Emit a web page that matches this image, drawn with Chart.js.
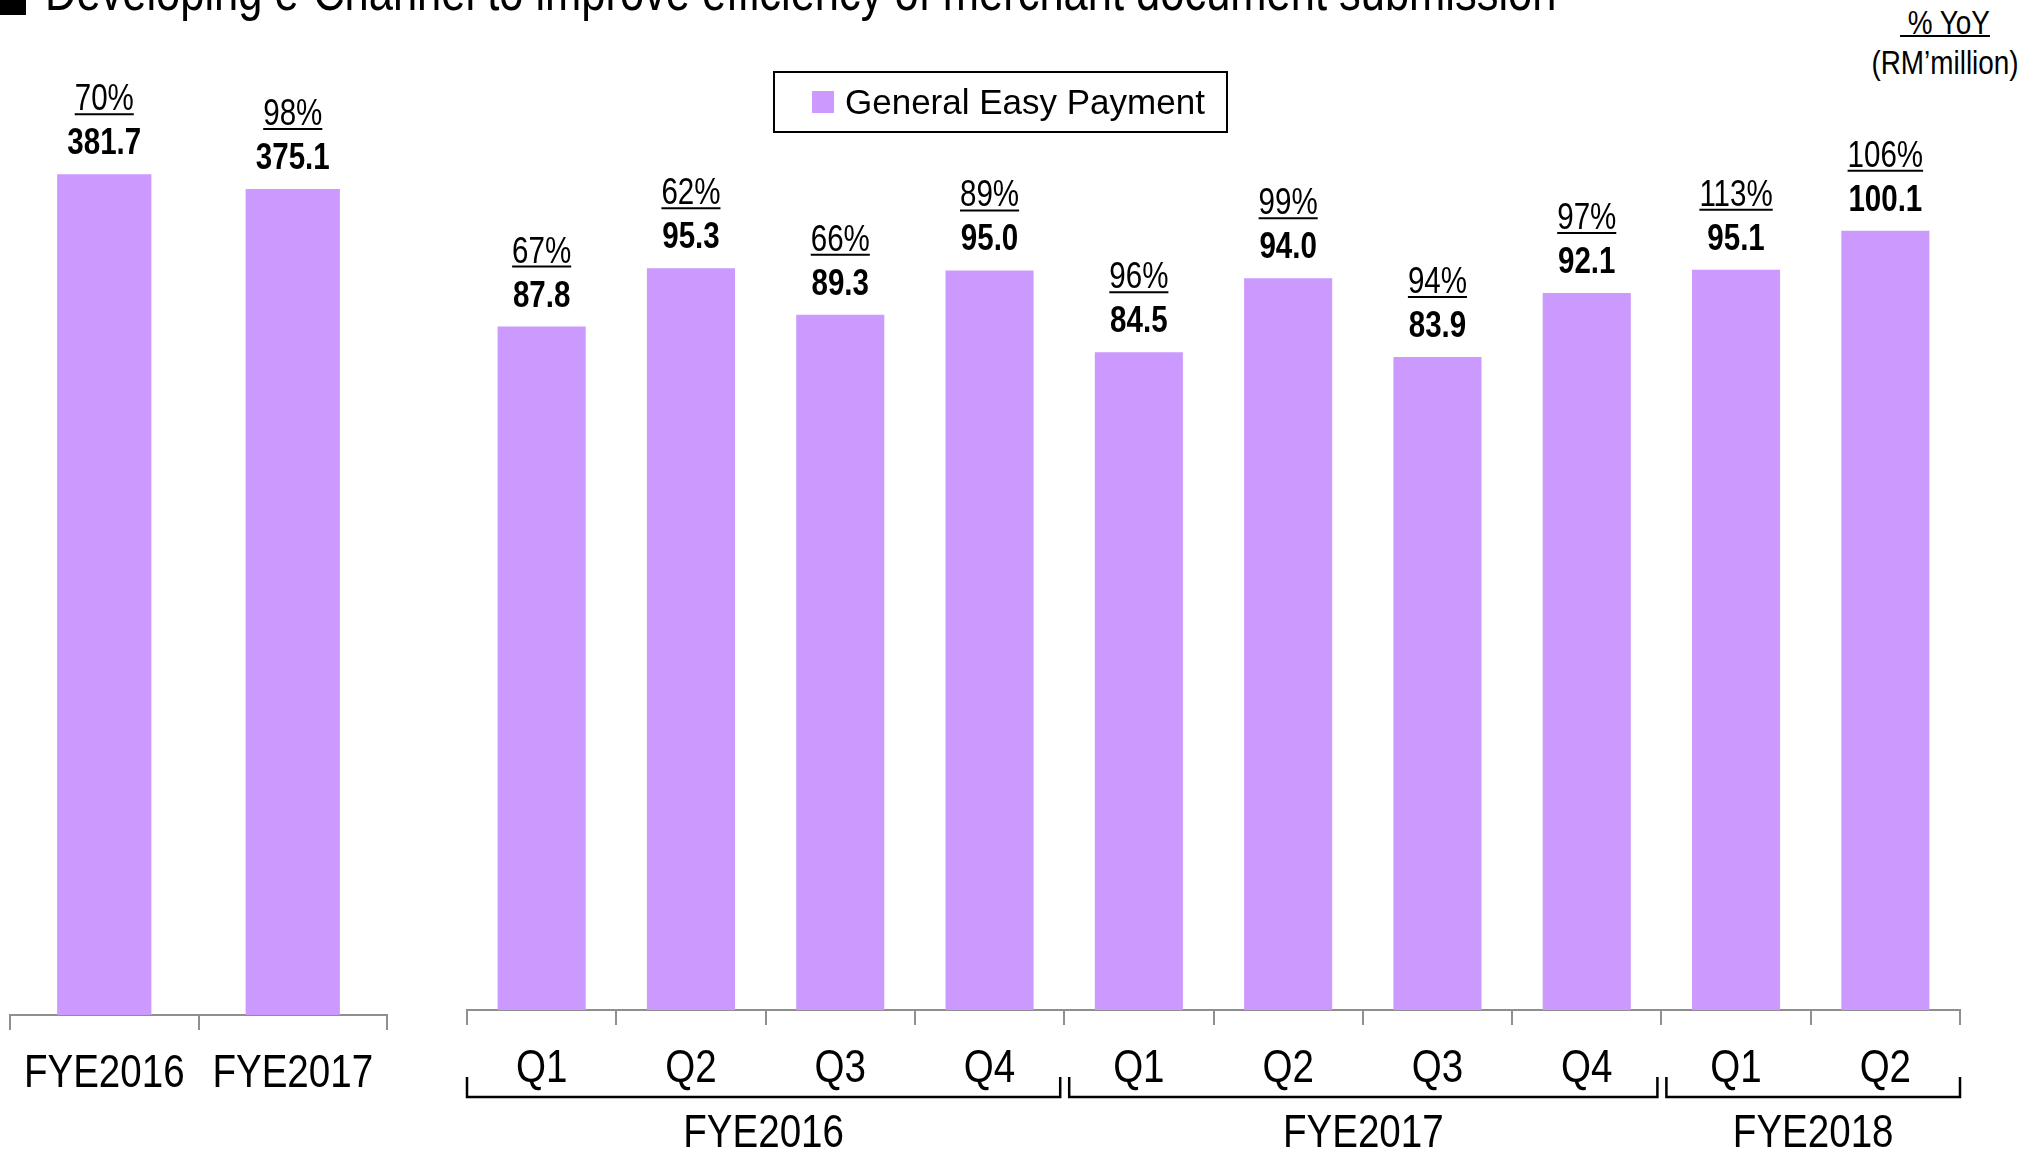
<!DOCTYPE html>
<html>
<head>
<meta charset="utf-8">
<script src="https://cdn.jsdelivr.net/npm/chart.js@4.4.0/dist/chart.umd.min.js"></script>
<style>
  html, body { margin: 0; padding: 0; background: #fff; }
  #page { position: relative; width: 2022px; height: 1149px; overflow: hidden;
          font-family: "Liberation Sans", Arial, sans-serif; color: #000; }
  canvas { position: absolute; top: 0; }
  .abs { position: absolute; white-space: nowrap; }
  .narrow { transform: scaleX(0.82); }
</style>
</head>
<body>
<div id="page">
  <div class="abs" style="left:0; top:-12px; width:26px; height:27px; background:#000;"></div>
  <div class="abs narrow" style="left:45px; top:-35px; font-size:53px; line-height:53px; transform-origin:0 0;">Developing e-Channel to improve efficiency of merchant document submission</div>

  <div class="abs narrow" style="left:1845px; top:2px; width:200px; text-align:center; font-size:34px; line-height:40px; transform-origin:50% 0;">
    <span style="text-decoration:underline; text-decoration-thickness:2px;">&nbsp;% YoY</span><br>(RM’million)
  </div>

  <canvas id="annualChart" width="400" height="1149" style="left:0;"></canvas>
  <canvas id="quarterChart" width="1582" height="1149" style="left:440px;"></canvas>

  <div class="abs" style="left:773px; top:71px; width:451px; height:58px; border:2px solid #000;">
    <div class="abs" style="left:37px; top:18px; width:22px; height:22px; background:#CC99FF;"></div>
    <div class="abs" style="left:70px; top:5px; font-size:35px; line-height:48px;">General Easy Payment</div>
  </div>
</div>

<script>
// Annual totals
const annualLabels = ['FYE2016', 'FYE2017'];
const annualValues = [381.7, 375.1];
const annualYoy = [70, 98];

// Quarterly figures
const quarterLabels = ['Q1', 'Q2', 'Q3', 'Q4', 'Q1', 'Q2', 'Q3', 'Q4', 'Q1', 'Q2'];
const quarterValues = [87.8, 95.3, 89.3, 95.0, 84.5, 94.0, 83.9, 92.1, 95.1, 100.1];
const quarterYoy = [67, 62, 66, 89, 96, 99, 94, 97, 113, 106];

// Fiscal year groups under the quarters
const groupLabels = ['FYE2016', 'FYE2017', 'FYE2018'];
const groupSizes = [4, 4, 2];

const FONT = '"Liberation Sans", Arial, sans-serif';
const SQUEEZE = 0.82;   // no Arial Narrow here, so squeeze Liberation Sans
const BAR_COLOR = '#CC99FF';
const AXIS_COLOR = '#8f8f8f';

function narrowText(ctx, text, x, y) {
    ctx.save();
    ctx.translate(x, y);
    ctx.scale(SQUEEZE, 1);
    ctx.fillText(text, 0, 0);
    ctx.restore();
    return ctx.measureText(text).width * SQUEEZE;
}

// Draws "xx%" (underlined) and the value above each bar
const barLabels = {
    id: 'barLabels',
    afterDatasetsDraw(chart, args, opts) {
        const ctx = chart.ctx;
        const meta = chart.getDatasetMeta(0);
        const values = chart.data.datasets[0].data;
        ctx.save();
        ctx.fillStyle = '#000';
        ctx.strokeStyle = '#000';
        ctx.textAlign = 'center';
        ctx.textBaseline = 'alphabetic';
        meta.data.forEach((bar, i) => {
            const x = bar.x;
            const top = bar.y;
            ctx.font = 'bold 36px ' + FONT;
            narrowText(ctx, values[i].toFixed(1), x, top - 20);
            ctx.font = '36px ' + FONT;
            const w = narrowText(ctx, opts.yoy[i] + '%', x, top - 64);
            ctx.lineWidth = 2;
            ctx.beginPath();
            ctx.moveTo(x - w / 2, top - 60);
            ctx.lineTo(x + w / 2, top - 60);
            ctx.stroke();
        });
        ctx.restore();
    }
};

// Category names under the axis (drawn narrow at the scale's tick positions)
const tickText = {
    id: 'tickText',
    afterDraw(chart, args, opts) {
        const ctx = chart.ctx;
        const xs = chart.scales.x;
        ctx.save();
        ctx.fillStyle = '#000';
        ctx.font = '47px ' + FONT;
        ctx.textAlign = 'center';
        ctx.textBaseline = 'alphabetic';
        xs.ticks.forEach((t, i) => {
            narrowText(ctx, xs.getLabelForValue(t.value), xs.getPixelForTick(i), opts.baseline);
        });
        ctx.restore();
    }
};

// Brackets and fiscal year names below the quarter labels
const groupBrackets = {
    id: 'groupBrackets',
    afterDraw(chart) {
        const ctx = chart.ctx;
        const xs = chart.scales.x;
        const step = xs.getPixelForValue(1) - xs.getPixelForValue(0);
        ctx.save();
        ctx.strokeStyle = '#000';
        ctx.fillStyle = '#000';
        ctx.lineWidth = 2.5;
        ctx.font = '47px ' + FONT;
        ctx.textAlign = 'center';
        ctx.textBaseline = 'alphabetic';
        let start = 0;
        groupSizes.forEach((n, g) => {
            const end = start + n - 1;
            const left = xs.getPixelForValue(start) - step / 2 + (start === 0 ? 0 : 5);
            const right = xs.getPixelForValue(end) + step / 2 - (end === quarterLabels.length - 1 ? 0 : 4);
            ctx.beginPath();
            ctx.moveTo(left, 1077);
            ctx.lineTo(left, 1097);
            ctx.lineTo(right, 1097);
            ctx.lineTo(right, 1077);
            ctx.stroke();
            narrowText(ctx, groupLabels[g], (left + right) / 2, 1147);
            start += n;
        });
        ctx.restore();
    }
};

function xAxis(height) {
    return {
        offset: true,
        grid: {
            offset: true,
            drawOnChartArea: false,
            drawTicks: true,
            tickLength: 15,
            color: AXIS_COLOR,
            lineWidth: 2
        },
        border: { display: true, color: AXIS_COLOR, width: 2 },
        ticks: { display: false, autoSkip: false },
        afterFit(scale) { scale.height = height; }
    };
}

new Chart(document.getElementById('annualChart'), {
    type: 'bar',
    data: {
        labels: annualLabels,
        datasets: [{
            label: 'General Easy Payment',
            data: annualValues,
            backgroundColor: BAR_COLOR,
            barPercentage: 0.5,
            categoryPercentage: 1.0
        }]
    },
    options: {
        responsive: false,
        animation: false,
        devicePixelRatio: 1,
        layout: { padding: { left: 10, right: 13, top: 79, bottom: 0 } },
        scales: {
            x: xAxis(134),
            y: { display: false, min: 0, max: 425 }
        },
        plugins: {
            legend: { display: false },
            tooltip: { enabled: false },
            barLabels: { yoy: annualYoy },
            tickText: { baseline: 1087 }
        }
    },
    plugins: [barLabels, tickText]
});

new Chart(document.getElementById('quarterChart'), {
    type: 'bar',
    data: {
        labels: quarterLabels,
        datasets: [{
            label: 'General Easy Payment',
            data: quarterValues,
            backgroundColor: BAR_COLOR,
            barPercentage: 0.59,
            categoryPercentage: 1.0
        }]
    },
    options: {
        responsive: false,
        animation: false,
        devicePixelRatio: 1,
        layout: { padding: { left: 27, right: 62, top: 79, bottom: 0 } },
        scales: {
            x: xAxis(139),
            y: { display: false, min: 0, max: 119.6 }
        },
        plugins: {
            legend: { display: false },
            tooltip: { enabled: false },
            barLabels: { yoy: quarterYoy },
            tickText: { baseline: 1082 }
        }
    },
    plugins: [barLabels, tickText, groupBrackets]
});
</script>
</body>
</html>
